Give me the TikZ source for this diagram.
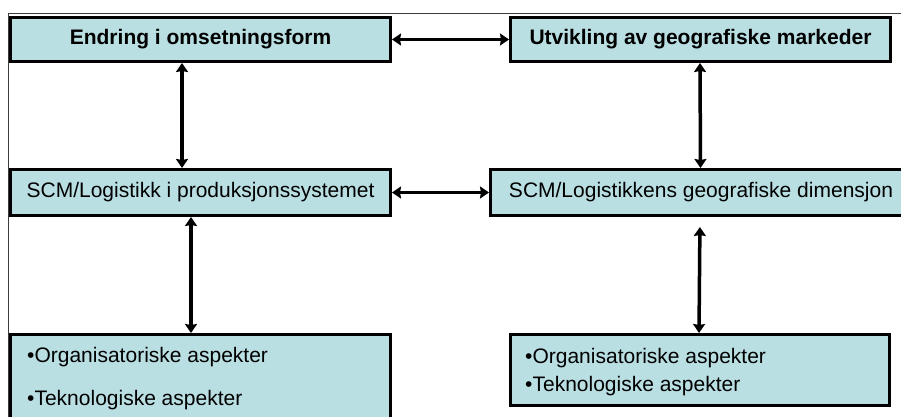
\documentclass[tikz,border=0pt]{standalone}
\usepackage{fontspec}
\setmainfont{Liberation Sans}
\usetikzlibrary{arrows.meta}
\definecolor{boxfill}{RGB}{185,223,227}
\definecolor{framegray}{RGB}{60,60,60}
\tikzset{
  box/.style={draw=black, line width=3pt, fill=boxfill, inner sep=0pt, font=\fontsize{21}{25}\selectfont},
  boldbox/.style={box, font=\fontsize{21}{25}\selectfont\bfseries},
  txt/.style={anchor=west, inner sep=0pt, font=\fontsize{21}{25}\selectfont},
  arr/.style={line width=3.5pt, {Stealth[length=9pt,width=12pt,inset=1pt]}-{Stealth[length=9pt,width=12pt,inset=1pt]}},
  framel/.style={draw=framegray, line width=1pt}
}
\begin{document}
\begin{tikzpicture}[x=1pt,y=-1pt]
\useasboundingbox (0,0) rectangle (901,417);
\clip (0,0) rectangle (901,417);
\fill[white] (0,0) rectangle (901,417);
% thin frame
\draw[framel] (8.5,420) -- (8.5,14) -- (905,14);
% boxes
\node[boldbox, minimum width=380pt, minimum height=44pt] (b1) at (200.5,39.5) {Endring i omsetningsform};
\node[boldbox, minimum width=380pt, minimum height=44pt] (b2) at (700.5,39.5) {Utvikling av geografiske markeder};
\node[box, minimum width=380pt, minimum height=46pt] (b3) at (200.5,192.5) {SCM/Logistikk i produksjonssystemet};
\node[box, minimum width=421pt, minimum height=46pt] (b4) at (701,192.5) {SCM/Logistikkens geografiske dimensjon};
\node[box, minimum width=380pt, minimum height=104pt] (b5) at (200.5,386.5) {};
\node[box, minimum width=379pt, minimum height=71pt] (b6) at (700,370) {};
% texts in lower boxes
\node[txt] (b5a) at (27,357) {•Organisatoriske aspekter};
\node[txt] (b5b) at (27,400) {•Teknologiske aspekter};
\node[txt] (b6a) at (525,358) {•Organisatoriske aspekter};
\node[txt] (b6b) at (525,386) {•Teknologiske aspekter};
% connectors
\draw[arr] (b1.east) -- (b2.west);
\draw[arr] (b3.east) -- (b4.west);
\draw[arr] ([xshift=-18.5pt]b1.south) -- ([xshift=-18.5pt]b3.north);
\draw[arr] ([xshift=-0.5pt]b2.south) -- ([xshift=-0.5pt]b4.north);
\draw[arr] ([xshift=-9.5pt]b3.south) -- ([xshift=-9.5pt]b5.north);
\draw[arr, shorten <=10pt] ([xshift=-1pt]b4.south) -- ([xshift=-1pt]b6.north);
\end{tikzpicture}
\end{document}
